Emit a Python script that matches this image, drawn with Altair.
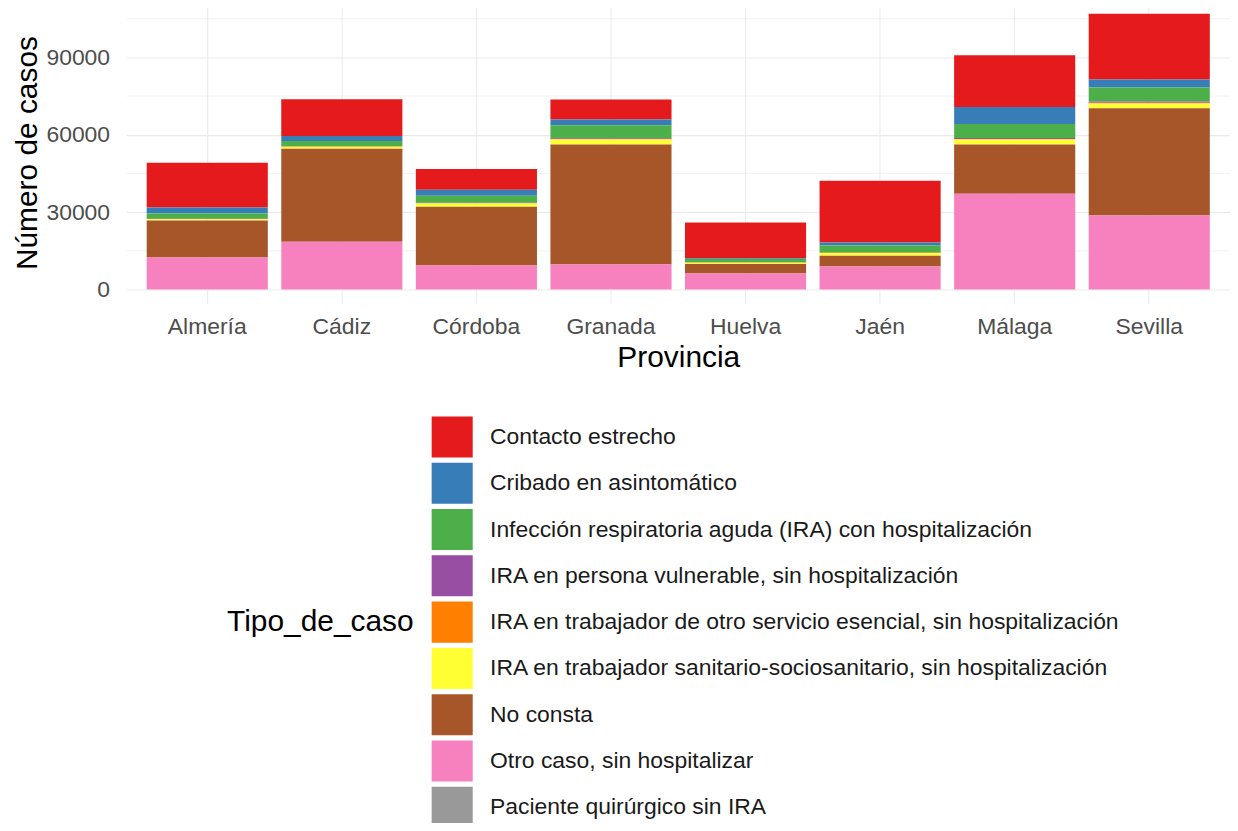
import altair as alt
import pandas as pd

provincias = ["Almería", "Cádiz", "Córdoba", "Granada", "Huelva", "Jaén", "Málaga", "Sevilla"]
tipos = [
    "Contacto estrecho",
    "Cribado en asintomático",
    "Infección respiratoria aguda (IRA) con hospitalización",
    "IRA en persona vulnerable, sin hospitalización",
    "IRA en trabajador de otro servicio esencial, sin hospitalización",
    "IRA en trabajador sanitario-sociosanitario, sin hospitalización",
    "No consta",
    "Otro caso, sin hospitalizar",
    "Paciente quirúrgico sin IRA",
]
colores = ["#E41A1C", "#377EB8", "#4DAF4A", "#984EA3", "#FF7F00",
           "#FFFF33", "#A65628", "#F781BF", "#999999"]

# values per province, in the order of `provincias`
contacto_estrecho = [17400, 14300, 8100, 7700, 13900, 23900, 20100, 25500]
cribado = [2300, 1900, 2300, 2300, 300, 1200, 6600, 3100]
ira_hospitalizacion = [2000, 1900, 2700, 5000, 1200, 2700, 5400, 5400]
ira_vulnerable = [150, 200, 200, 300, 100, 150, 400, 500]
ira_otro_servicio = [100, 150, 150, 200, 80, 100, 200, 250]
ira_sanitario = [500, 800, 1200, 1900, 500, 1000, 1900, 1900]
no_consta = [14300, 36000, 22800, 46500, 3700, 4200, 19100, 41600]
otro_caso = [12400, 18500, 9300, 9700, 6200, 8900, 37100, 28600]
paciente_quirurgico = [30, 40, 30, 50, 20, 20, 50, 60]

series = [contacto_estrecho, cribado, ira_hospitalizacion, ira_vulnerable,
          ira_otro_servicio, ira_sanitario, no_consta, otro_caso, paciente_quirurgico]

y_ticks = [0, 30000, 60000, 90000]
y_minor = [15000, 45000, 75000, 105000]

rows = []
for i, (tipo, vals) in enumerate(zip(tipos, series)):
    for prov, v in zip(provincias, vals):
        rows.append({"Provincia": prov, "Tipo_de_caso": tipo, "n": v, "orden": i})
df = pd.DataFrame(rows)
minor_df = pd.DataFrame({"m": y_minor})

FONT = "Liberation Sans"
yscale = alt.Scale(domain=[-5400, 111600], nice=False, zero=False)
yaxis = alt.Axis(title="Número de casos", values=y_ticks, format="d",
                 labelPadding=17, titlePadding=3)

minor = alt.Chart(minor_df).mark_rule(color="#EBEBEB", strokeWidth=0.6).encode(
    y=alt.Y("m:Q", scale=yscale, axis=yaxis, title="Número de casos")
)

bars = alt.Chart(df).mark_bar().encode(
    x=alt.X("Provincia:N", sort=provincias,
            scale=alt.Scale(paddingInner=0.1, paddingOuter=0.15),
            axis=alt.Axis(title="Provincia", labelAngle=0, bandPosition=0.5,
                          labelPadding=12, titlePadding=4)),
    y=alt.Y("sum(n):Q", scale=yscale, stack="zero", axis=yaxis, title="Número de casos"),
    color=alt.Color("Tipo_de_caso:N",
                    scale=alt.Scale(domain=tipos, range=colores),
                    legend=alt.Legend(title="Tipo_de_caso", orient="none",
                                      legendX=101, legendY=416,
                                      titleOrient="left", titleAnchor="middle",
                                      titleBaseline="middle", titlePadding=17,
                                      titleLimit=600,
                                      symbolType="square", symbolSize=1700,
                                      symbolStrokeWidth=0, symbolOpacity=1,
                                      rowPadding=4.5, labelOffset=17,
                                      labelLimit=1000, padding=0)),
    order=alt.Order("orden:Q", sort="descending"),
)

chart = alt.layer(minor, bars).properties(
    width=1108, height=303,
    autosize=alt.AutoSizeParams(type="none"),
    padding={"left": 119, "top": -8, "right": 0, "bottom": 520},
).configure_view(stroke=None).configure_axis(
    grid=True, gridColor="#EBEBEB", gridWidth=1.1, domain=False, ticks=False,
    labelFont=FONT, titleFont=FONT, labelFontSize=23, titleFontSize=30,
    labelColor="#4D4D4D", titleColor="#000000", titleFontWeight="normal",
).configure_legend(
    labelFont=FONT, titleFont=FONT, labelFontSize=23, titleFontSize=30,
    labelColor="#1A1A1A", titleColor="#000000", titleFontWeight="normal",
)

chart.save("out.html", embed_options={"renderer": "svg", "actions": False})
